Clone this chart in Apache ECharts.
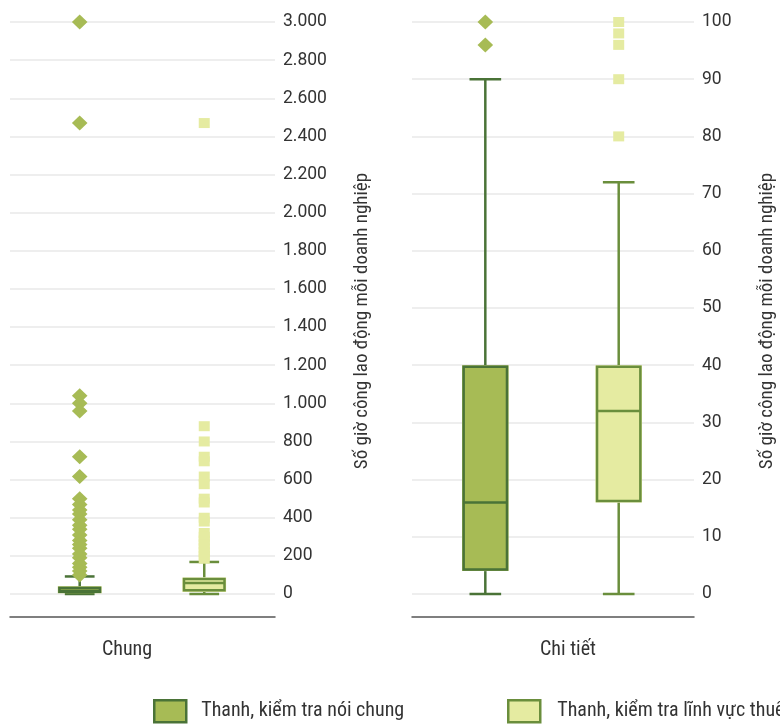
<!DOCTYPE html>
<html>
<head>
<meta charset="utf-8">
<script src="https://cdn.jsdelivr.net/npm/echarts@6/dist/echarts.min.js"></script>
<style>
html,body{margin:0;padding:0;background:#fff;}
#chart{width:780px;height:724px;}
</style>
</head>
<body>
<div id="chart"></div>
<script>
// ---- data ----
const categoriesChung = ['Chung'];
const categoriesChiTiet = ['Chi tiết'];
const seriesNames = ['Thanh, kiểm tra nói chung', 'Thanh, kiểm tra lĩnh vực thuế'];
const axisTitle = 'Số giờ công lao động mỗi doanh nghiệp';

// box values: [min, Q1, median, Q3, max]
const chungGeneralBox = [0, 4, 16, 40, 92];
const chungTaxBox = [0, 11, 58, 87, 168];
const chiTietGeneralBox = [0, 4, 16, 40, 90];
const chiTietTaxBox = [0, 16, 32, 40, 72];

// outliers
const chungGeneralOutliers = [3000, 2470, 1040, 1000, 960, 720, 616, 500, 470, 440, 420, 390, 360, 340, 310, 280, 260, 240, 210, 190, 160, 140, 120, 100];
const chungTaxOutliers = [2470, 880, 800, 720, 696, 616, 576, 500, 480, 400, 380, 320, 300, 280, 260, 240, 220, 200, 185];
const chiTietGeneralOutliers = [100, 96];
const chiTietTaxOutliers = [100, 98, 96, 90, 80];

// axis ticks
const chungAxis = { min: 0, max: 3000, interval: 200 };
const chiTietAxis = { min: 0, max: 100, interval: 10 };

// ---- styles ----
const FILL1 = '#a7bb55', STROKE1 = '#4a7337';
const FILL2 = '#e5eba1', STROKE2 = '#6a8e3c';
const NARROW = "'Liberation Sans Narrow','Roboto Condensed','DejaVu Sans Condensed',sans-serif";
const TXT = '#333333';

function fmt(v) { return String(v).replace(/\B(?=(\d{3})+(?!\d))/g, '.'); }

function boxRenderer(offset, fill, stroke) {
  return function (params, api) {
    const ci = api.value(0);
    const band = api.size([1, 0])[0];
    const cx = api.coord([ci, 0])[0] + band * offset;
    const bw = band * 0.165;
    const ys = [1, 2, 3, 4, 5].map(d => api.coord([ci, api.value(d)])[1]);
    const yMin = ys[0], yQ1 = ys[1], yMed = ys[2], yQ3 = ys[3], yMax = ys[4];
    const half = bw / 2, cap = bw * 0.34, inset = 1.6, lw = 2.5;
    const ls = { stroke: stroke, lineWidth: lw };
    return {
      type: 'group',
      children: [
        { type: 'line', shape: { x1: cx, y1: yQ3, x2: cx, y2: yMax }, style: ls },
        { type: 'line', shape: { x1: cx, y1: yQ1, x2: cx, y2: yMin }, style: ls },
        { type: 'line', shape: { x1: cx - cap, y1: yMax, x2: cx + cap, y2: yMax }, style: ls },
        { type: 'line', shape: { x1: cx - cap, y1: yMin, x2: cx + cap, y2: yMin }, style: ls },
        { type: 'rect', shape: { x: cx - half, y: yQ3, width: bw, height: yQ1 - yQ3 }, style: { fill: fill } },
        { type: 'rect', shape: { x: cx - half + inset, y: yQ3 + inset, width: bw - 2 * inset, height: Math.max(0, yQ1 - yQ3 - 2 * inset) },
          style: { fill: null, stroke: stroke, lineWidth: lw } },
        { type: 'line', shape: { x1: cx - half + inset, y1: yMed, x2: cx + half - inset, y2: yMed }, style: ls }
      ]
    };
  };
}

function outlierRenderer(offset, shape, color) {
  return function (params, api) {
    const ci = api.value(0);
    const band = api.size([1, 0])[0];
    const p = api.coord([ci, api.value(1)]);
    const cx = p[0] + band * offset, cy = p[1];
    if (shape === 'diamond') {
      return { type: 'polygon', shape: { points: [[cx, cy - 7.5], [cx + 7.8, cy], [cx, cy + 7.5], [cx - 7.8, cy]] }, style: { fill: color } };
    }
    return { type: 'rect', shape: { x: cx - 5.5, y: cy - 5, width: 11, height: 10 }, style: { fill: color } };
  };
}

function boxSeries(name, idx, box, offset, fill, stroke) {
  return {
    type: 'custom', name: name, xAxisIndex: idx, yAxisIndex: idx,
    itemStyle: { color: fill, borderColor: stroke },
    renderItem: boxRenderer(offset, fill, stroke),
    encode: { x: 0, y: [1, 2, 3, 4, 5] },
    data: [[0].concat(box)], z: 2
  };
}
function outSeries(name, idx, vals, offset, shape, color, stroke) {
  return {
    type: 'custom', name: name, xAxisIndex: idx, yAxisIndex: idx,
    itemStyle: { color: color, borderColor: stroke },
    renderItem: outlierRenderer(offset, shape, color),
    encode: { x: 0, y: 1 },
    data: vals.map(v => [0, v]), z: 3
  };
}

function yAxisCfg(idx, ax, gap) {
  return {
    type: 'value', gridIndex: idx, position: 'right',
    min: ax.min, max: ax.max, interval: ax.interval,
    axisLine: { show: false }, axisTick: { show: false },
    axisLabel: { margin: 8, color: TXT, fontSize: 17.5, fontFamily: 'Roboto, sans-serif', formatter: fmt },
    splitLine: { lineStyle: { color: '#e9e9e9', width: 1.5 } },
    name: axisTitle, nameLocation: 'middle', nameRotate: 90, nameGap: gap,
    nameTextStyle: { color: TXT, fontSize: 19, fontFamily: NARROW, padding: [0, 26, 0, 0] }
  };
}
function xAxisCfg(idx, cats, pad) {
  return {
    type: 'category', gridIndex: idx, data: cats, offset: 23, position: 'bottom',
    axisLine: { onZero: false, lineStyle: { color: '#555', width: 1.5 } },
    axisTick: { show: false },
    axisLabel: { margin: 23, color: TXT, fontSize: 20, fontFamily: NARROW, padding: pad },
    splitLine: { show: false }
  };
}

const chart = echarts.init(document.getElementById('chart'), null, { renderer: 'canvas' });
chart.setOption({
  animation: false,
  backgroundColor: '#fff',
  grid: [
    { left: 10, width: 265, top: 22, bottom: 130 },
    { left: 412, width: 282, top: 22, bottom: 130 }
  ],
  xAxis: [xAxisCfg(0, categoriesChung, [0, 31, 0, 0]), xAxisCfg(1, categoriesChiTiet, [0, 0, 0, 30])],
  yAxis: [yAxisCfg(0, chungAxis, 78), yAxisCfg(1, chiTietAxis, 64)],
  legend: [
    { data: [{ name: seriesNames[0], icon: 'rect' }], left: 148, top: 694, itemWidth: 32, itemHeight: 22,
      itemStyle: { color: FILL1, borderColor: STROKE1, borderWidth: 2.5 },
      textStyle: { color: TXT, fontSize: 20, fontFamily: NARROW, padding: [0, 0, 0, 10] } },
    { data: [{ name: seriesNames[1], icon: 'rect' }], left: 502, top: 694, itemWidth: 32, itemHeight: 22,
      itemStyle: { color: FILL2, borderColor: STROKE2, borderWidth: 2.5 },
      textStyle: { color: TXT, fontSize: 20, fontFamily: NARROW, padding: [0, 0, 0, 12] } }
  ],
  series: [
    boxSeries(seriesNames[0], 0, chungGeneralBox, -0.237, FILL1, STROKE1),
    boxSeries(seriesNames[1], 0, chungTaxBox, 0.233, FILL2, STROKE2),
    boxSeries(seriesNames[0], 1, chiTietGeneralBox, -0.24, FILL1, STROKE1),
    boxSeries(seriesNames[1], 1, chiTietTaxBox, 0.233, FILL2, STROKE2),
    outSeries(seriesNames[0], 0, chungGeneralOutliers, -0.237, 'diamond', FILL1, STROKE1),
    outSeries(seriesNames[1], 0, chungTaxOutliers, 0.233, 'square', FILL2, STROKE2),
    outSeries(seriesNames[0], 1, chiTietGeneralOutliers, -0.24, 'diamond', FILL1, STROKE1),
    outSeries(seriesNames[1], 1, chiTietTaxOutliers, 0.233, 'square', FILL2, STROKE2)
  ]
});
</script>
</body>
</html>
